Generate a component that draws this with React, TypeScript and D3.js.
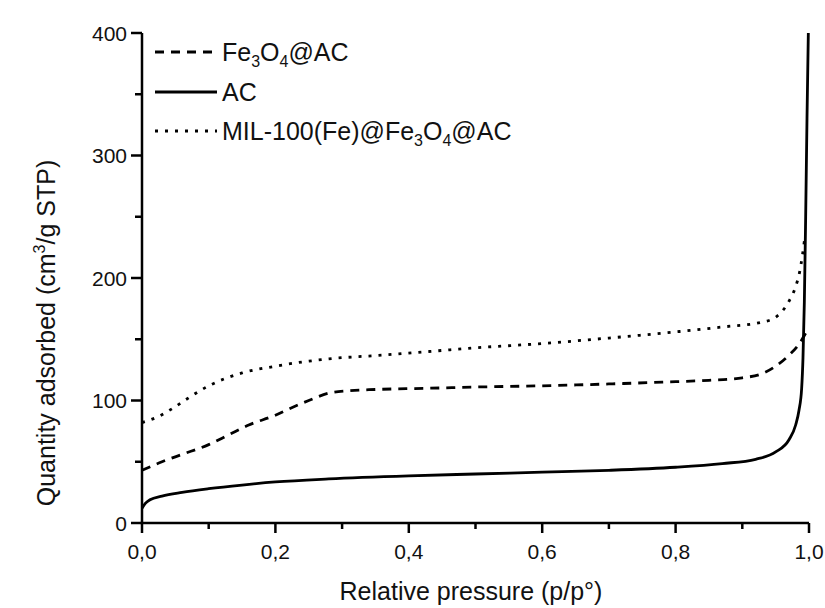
import React from "react";
import * as d3 from "d3";

// ---- data ----
const acP = [0, 0.005, 0.012, 0.03, 0.06, 0.1, 0.15, 0.2, 0.28, 0.4, 0.5, 0.6, 0.7, 0.8, 0.87, 0.92, 0.95, 0.97, 0.98, 0.985, 0.989, 0.991, 0.993, 0.995, 0.997, 0.999];
const acV = [12, 16, 19, 22, 25, 28, 31, 33.5, 36, 38.5, 40, 41.5, 43, 45.5, 48.5, 52, 58, 68, 80, 92, 110, 135, 180, 250, 330, 400];

const feP = [0, 0.03, 0.06, 0.1, 0.13, 0.16, 0.2, 0.22, 0.25, 0.28, 0.31, 0.35, 0.43, 0.5, 0.6, 0.7, 0.78, 0.85, 0.9, 0.93, 0.95, 0.97, 0.985, 0.995];
const feV = [43, 50, 56, 64, 72, 80, 88, 93, 100, 106, 108, 109, 110, 111, 112, 113.5, 115, 116.5, 118.5, 122, 128, 137, 146, 155];

const milP = [0, 0.025, 0.05, 0.075, 0.1, 0.125, 0.15, 0.2, 0.28, 0.36, 0.43, 0.5, 0.6, 0.7, 0.8, 0.87, 0.93, 0.95, 0.96, 0.97, 0.98, 0.986, 0.99, 0.993];
const milV = [82, 87, 95, 104, 112, 118, 122.5, 128, 134, 137, 140, 143, 146.5, 151, 156, 160, 164, 168, 173, 181, 193, 205, 218, 230];

const xMajor = [0, 0.2, 0.4, 0.6, 0.8, 1.0];
const xMinor = [0.1, 0.3, 0.5, 0.7, 0.9];
const xTickLabels = ["0,0", "0,2", "0,4", "0,6", "0,8", "1,0"];
const yMajor = [0, 100, 200, 300, 400];
const yMinor = [50, 150, 250, 350];

const W = 825;
const H = 608;
const FONT = "'Liberation Sans', Arial, Helvetica, sans-serif";

export default function App() {
  const x = d3.scaleLinear().domain([0, 1]).range([142, 809]);
  const y = d3.scaleLinear().domain([0, 400]).range([523, 33]);

  const line = d3
    .line<[number, number]>()
    .x((d) => x(d[0]))
    .y((d) => y(d[1]))
    .curve(d3.curveMonotoneX);

  const zip = (p: number[], v: number[]) => p.map((pp, i) => [pp, v[i]] as [number, number]);

  const series = [
    { name: "Fe3O4@AC", data: zip(feP, feV), dash: "9,7" },
    { name: "AC", data: zip(acP, acV), dash: "none" },
    { name: "MIL", data: zip(milP, milV), dash: "3,7" },
  ];

  const x0 = x(0);
  const y0 = y(0);

  const legendRows = [52, 92, 131];
  const subDy = 6;
  const subFs = 16;

  return (
    <svg
      width={W}
      height={H}
      style={{ position: "absolute", left: 0, top: 0, background: "#fff" }}
      fontFamily={FONT}
    >
      <rect x={0} y={0} width={W} height={H} fill="#fff" />

      {/* curves */}
      {series.map((s) => (
        <path
          key={s.name}
          d={line(s.data) || ""}
          fill="none"
          stroke="#000"
          strokeWidth={2.8}
          strokeDasharray={s.dash}
        />
      ))}

      {/* axes */}
      <line x1={x0} x2={x0} y1={y(400)} y2={y0} stroke="#000" strokeWidth={2.5} />
      <line x1={x0 - 1.2} x2={x(1)} y1={y0} y2={y0} stroke="#000" strokeWidth={2.5} />

      {xMajor.map((t, i) => (
        <g key={"xm" + t}>
          <line x1={x(t)} x2={x(t)} y1={y0} y2={y0 + 10} stroke="#000" strokeWidth={2.5} />
          <text x={x(t)} y={y0 + 36} textAnchor="middle" fontSize={21} fill="#111">
            {xTickLabels[i]}
          </text>
        </g>
      ))}
      {xMinor.map((t) => (
        <line key={"xn" + t} x1={x(t)} x2={x(t)} y1={y0} y2={y0 + 6} stroke="#000" strokeWidth={2.5} />
      ))}

      {yMajor.map((t) => (
        <g key={"ym" + t}>
          <line x1={x0 - 11} x2={x0} y1={y(t)} y2={y(t)} stroke="#000" strokeWidth={2.5} />
          <text x={x0 - 15} y={y(t)} dy="0.36em" textAnchor="end" fontSize={21} fill="#111">
            {t}
          </text>
        </g>
      ))}
      {yMinor.map((t) => (
        <line key={"yn" + t} x1={x0 - 7} x2={x0} y1={y(t)} y2={y(t)} stroke="#000" strokeWidth={2.5} />
      ))}

      {/* axis titles */}
      <text x={471} y={600} textAnchor="middle" fontSize={25} fill="#111">
        Relative pressure (p/p°)
      </text>
      <text
        transform={`translate(55, 333) rotate(-90)`}
        textAnchor="middle"
        fontSize={25}
        fill="#111"
      >
        <tspan>Quantity adsorbed (cm</tspan>
        <tspan fontSize={16} dy={-10}>3</tspan>
        <tspan dy={10}>/g STP)</tspan>
      </text>

      {/* legend */}
      {series.map((s, i) => (
        <line
          key={"lg" + s.name}
          x1={155}
          x2={217}
          y1={legendRows[i]}
          y2={legendRows[i]}
          stroke="#000"
          strokeWidth={2.8}
          strokeDasharray={s.dash}
        />
      ))}
      <text x={222} y={legendRows[0] + 9} fontSize={25} fill="#111">
        <tspan>Fe</tspan>
        <tspan fontSize={subFs} dy={subDy}>3</tspan>
        <tspan dy={-subDy}>O</tspan>
        <tspan fontSize={subFs} dy={subDy}>4</tspan>
        <tspan dy={-subDy}>@AC</tspan>
      </text>
      <text x={222} y={legendRows[1] + 9} fontSize={25} fill="#111">
        AC
      </text>
      <text x={222} y={legendRows[2] + 9} fontSize={25} fill="#111">
        <tspan>MIL-100(Fe)@Fe</tspan>
        <tspan fontSize={subFs} dy={subDy}>3</tspan>
        <tspan dy={-subDy}>O</tspan>
        <tspan fontSize={subFs} dy={subDy}>4</tspan>
        <tspan dy={-subDy}>@AC</tspan>
      </text>
    </svg>
  );
}
